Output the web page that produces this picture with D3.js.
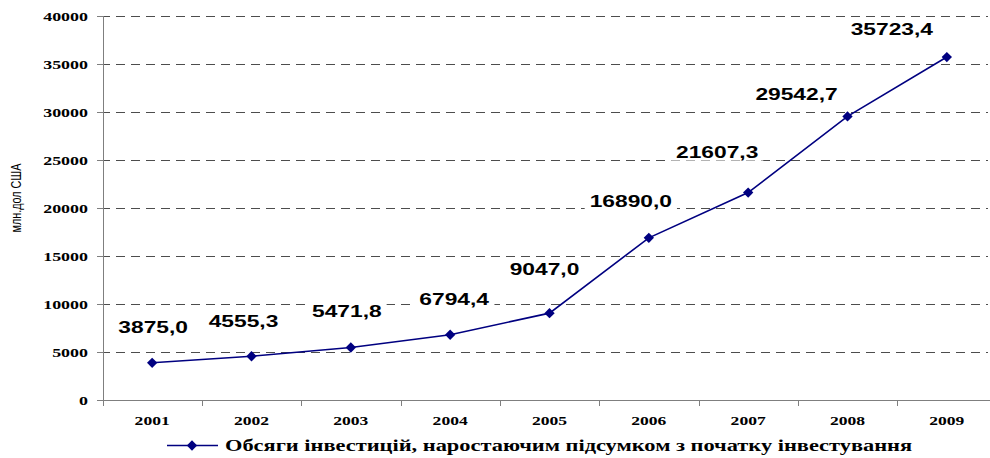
<!DOCTYPE html>
<html><head><meta charset="utf-8">
<script src="https://cdn.jsdelivr.net/npm/d3@7"></script>
<style>body{margin:0;background:#fff}svg{display:block}</style>
</head><body>
<svg id="c" width="990" height="458"></svg>
<script>
const years = ["2001","2002","2003","2004","2005","2006","2007","2008","2009"];
const values = [3875.0, 4555.3, 5471.8, 6794.4, 9047.0, 16890.0, 21607.3, 29542.7, 35723.4];
const valueLabels = ["3875,0","4555,3","5471,8","6794,4","9047,0","16890,0","21607,3","29542,7","35723,4"];
const yTicks = [0,5000,10000,15000,20000,25000,30000,35000,40000];
const seriesName = "Обсяги інвестицій, наростаючим підсумком з початку інвестування";
const yTitle = "млн.дол США";

// label placement (layout, px offsets from point: dx, dy to baseline)
const labelDx = [1,-8,-4,4,-5,-18,-31,-51,-55];
const labelDy = [-30,-29,-30,-30,-38,-31,-35,-16,-22];

const svg = d3.select("#c");
const SX = 1.35;
const x = d3.scaleBand().domain(years).range([102.5, 996.5]);
const y = d3.scaleLinear().domain([0,40000]).range([400,16]);
const navy = "#000080";

function sText(g, px, py, txt, opts){
  return g.append("text")
    .attr("transform", `translate(${px},${py}) scale(${opts.sx||SX},1)` + (opts.rot?` rotate(${opts.rot})`:""))
    .attr("text-anchor", opts.anchor||"middle")
    .attr("font-family", opts.family)
    .attr("font-size", opts.size)
    .attr("font-weight", opts.weight||"bold")
    .attr("fill", "#000")
    .text(txt);
}

// gridlines
svg.append("g").selectAll("line").data(yTicks.filter(d=>d>0)).join("line")
  .attr("x1", 104).attr("x2", 988)
  .attr("y1", d=>y(d)).attr("y2", d=>y(d))
  .attr("stroke", "#4d4d4d").attr("stroke-width", 1)
  .attr("stroke-dasharray", "9,6").attr("stroke-dashoffset", -12)
  .attr("shape-rendering","crispEdges");

// y axis
const yAxis = svg.append("g").attr("transform","translate(103,0)")
  .call(d3.axisLeft(y).tickValues(yTicks).tickSize(6).tickFormat(""));
yAxis.selectAll("path,line").attr("stroke","#7f7f7f").attr("shape-rendering","crispEdges");
yAxis.select("path").attr("d","M0,16V400");
yTicks.forEach(t => sText(svg, 88, y(t)+4.5, String(t), {anchor:"end", family:"Liberation Serif", size:13, sx:1.38}));

// x axis
const xAxis = svg.append("g").attr("transform","translate(0,400)")
  .call(d3.axisBottom(x).tickSize(0).tickFormat(""));
xAxis.select("path").attr("d","M103,0H990").attr("stroke","#7f7f7f").attr("shape-rendering","crispEdges");
const bounds = years.map(d=>x(d)).concat([x.range()[1]]);
svg.append("g").selectAll("line").data(bounds).join("line")
  .attr("x1", d=>Math.round(d)).attr("x2", d=>Math.round(d)).attr("y1",400).attr("y2",406)
  .attr("stroke","#7f7f7f").attr("shape-rendering","crispEdges");
years.forEach(yr => sText(svg, x(yr)+x.bandwidth()/2, 425, yr, {family:"Liberation Serif", size:13, sx:1.35}));

// y title
sText(svg, 21, 198, yTitle, {family:"Liberation Sans", size:10.8, weight:"normal", rot:-90, sx:1.35});

// line
const cx = d => x(d)+x.bandwidth()/2;
const line = d3.line().x((d,i)=>cx(years[i])).y(d=>y(d));
svg.append("path").datum(values).attr("d", line)
  .attr("fill","none").attr("stroke",navy).attr("stroke-width",1.6);

const diamond = d3.symbol().type(d3.symbolDiamond2).size(68);
svg.append("g").selectAll("path").data(values).join("path")
  .attr("d", diamond)
  .attr("transform",(d,i)=>`translate(${cx(years[i])},${y(d)})`)
  .attr("fill",navy);

// data labels with white background
const lg = svg.append("g");
values.forEach((v,i)=>{
  const px = cx(years[i])+labelDx[i], py = y(v)+labelDy[i];
  const g = lg.append("g");
  const t = sText(g, px, py, valueLabels[i], {family:"Liberation Sans", size:17, sx:1.34});
  const bb = t.node().getBBox();
  const w = bb.width*1.34;
  g.insert("rect","text").attr("x", px-w/2-5).attr("y", py-15).attr("width", w+10).attr("height", 18).attr("fill","#fff");
});

// legend
svg.append("line").attr("x1",167).attr("x2",218).attr("y1",445.5).attr("y2",445.5)
  .attr("stroke",navy).attr("stroke-width",1.6);
svg.append("path").attr("d",diamond).attr("transform","translate(192,445.5)").attr("fill",navy);
sText(svg, 225, 451, seriesName, {anchor:"start", family:"Liberation Serif", size:16, sx:1.4});
</script>
</body></html>
